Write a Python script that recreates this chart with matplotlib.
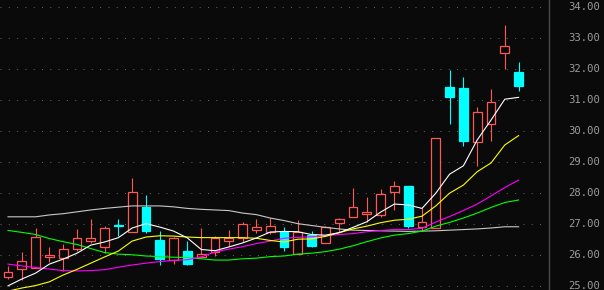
import matplotlib
matplotlib.use('Agg')
import matplotlib.pyplot as plt
from matplotlib.patches import Rectangle
from matplotlib.lines import Line2D
from matplotlib.transforms import blended_transform_factory
import numpy as np

# ---- data ----
opens  = [25.29, 25.55, 25.61, 25.96, 25.90, 26.19, 26.47, 26.26, 26.99, 26.76,
          27.56, 26.49, 25.85, 26.14, 25.94, 26.12, 26.47, 26.55, 26.81, 26.76,
          26.76, 26.06, 26.67, 26.39, 27.05, 27.24, 27.32, 27.30, 28.05, 28.23,
          26.92, 26.87, 31.40, 31.37, 29.65, 30.21, 32.50, 31.89]
highs  = [25.66, 26.11, 26.88, 26.26, 26.36, 26.84, 27.16, 26.94, 27.16, 28.48,
          27.94, 26.78, 26.60, 26.46, 26.87, 26.62, 26.81, 27.08, 27.16, 27.19,
          26.90, 27.14, 26.78, 26.94, 27.19, 28.15, 27.87, 28.12, 28.39, 28.23,
          27.51, 29.76, 31.96, 31.72, 30.76, 31.35, 33.41, 32.22]
lows   = [25.24, 25.21, 25.58, 25.79, 25.51, 26.15, 26.40, 26.08, 26.62, 26.74,
          26.73, 25.69, 25.72, 25.68, 25.94, 25.98, 26.30, 26.44, 26.71, 26.68,
          26.15, 26.03, 26.28, 26.39, 26.76, 27.22, 27.08, 27.24, 27.46, 26.89,
          26.79, 26.87, 30.22, 29.51, 28.88, 29.68, 31.99, 31.29]
closes = [25.46, 25.81, 26.60, 26.01, 26.19, 26.55, 26.55, 26.87, 26.95, 28.03,
          26.79, 25.87, 26.55, 25.71, 26.03, 26.55, 26.57, 27.00, 26.90, 26.94,
          26.28, 26.76, 26.31, 26.92, 27.16, 27.54, 27.40, 27.96, 28.24, 26.95,
          27.06, 29.76, 31.10, 29.68, 30.60, 30.92, 32.72, 31.45]

ma5  = [25.02, 25.24, 25.43, 25.72, 25.88, 26.07, 26.33, 26.43, 26.57, 26.88,
        27.02, 26.91, 26.78, 26.56, 26.19, 26.15, 26.27, 26.40, 26.56, 26.75,
        26.77, 26.76, 26.67, 26.65, 26.73, 26.90, 27.08, 27.39, 27.65, 27.62,
        27.51, 28.00, 28.61, 28.88, 29.71, 30.35, 31.02, 31.08]
ma10 = [24.85, 24.95, 25.03, 25.15, 25.37, 25.55, 25.75, 25.95, 26.14, 26.46,
        26.59, 26.63, 26.62, 26.59, 26.57, 26.57, 26.57, 26.57, 26.55, 26.48,
        26.43, 26.52, 26.53, 26.61, 26.73, 26.85, 26.94, 27.05, 27.13, 27.16,
        27.26, 27.59, 28.00, 28.26, 28.69, 28.97, 29.55, 29.85]
ma20 = [25.72, 25.66, 25.61, 25.56, 25.51, 25.50, 25.51, 25.54, 25.62, 25.69,
        25.75, 25.80, 25.84, 25.86, 25.95, 26.11, 26.20, 26.28, 26.38, 26.46,
        26.55, 26.58, 26.60, 26.63, 26.67, 26.70, 26.76, 26.80, 26.83, 26.83,
        26.87, 27.07, 27.25, 27.44, 27.65, 27.91, 28.18, 28.42]
ma30 = [26.80, 26.74, 26.67, 26.54, 26.44, 26.35, 26.22, 26.09, 26.04, 26.02,
        25.98, 25.96, 25.94, 25.93, 25.89, 25.85, 25.85, 25.89, 25.91, 25.96,
        25.98, 26.04, 26.07, 26.12, 26.20, 26.31, 26.44, 26.56, 26.65, 26.70,
        26.78, 26.94, 27.06, 27.20, 27.36, 27.54, 27.70, 27.78]
ma60 = [27.24, 27.24, 27.24, 27.30, 27.34, 27.40, 27.46, 27.51, 27.55, 27.59,
        27.59, 27.59, 27.56, 27.51, 27.48, 27.46, 27.44, 27.36, 27.31, 27.20,
        27.12, 27.02, 26.96, 26.90, 26.85, 26.81, 26.80, 26.79, 26.78, 26.77,
        26.78, 26.79, 26.81, 26.83, 26.85, 26.88, 26.92, 26.92]

ytick_values = [25, 26, 27, 28, 29, 30, 31, 32, 33, 34]

# ---- style ----
BG = '#0a0a0a'
UP = '#ff5656'
DOWN = '#00ffff'
GRID = '#626262'
LABEL = '#9c9c9c'

fig = plt.figure(figsize=(6.04, 2.90), dpi=100, facecolor=BG)
ax = fig.add_axes([0, 0, 548 / 604, 1])
ax.set_facecolor(BG)
for s in ax.spines.values():
    s.set_visible(False)
ax.set_xticks([])
ax.set_yticks([])

n = len(opens)
xs = np.arange(n)
ax.set_xlim(-0.58, 39.13)
ax.set_ylim(24.887, 34.209)

# dotted grid
for v in ytick_values:
    ax.axhline(v, color=GRID, lw=0.72, linestyle=(0, (1, 7.3)), zorder=1)

# candles
bw = 0.64
for i in range(n):
    o, h, l, c = opens[i], highs[i], lows[i], closes[i]
    up = c >= o
    col = UP if up else DOWN
    ax.vlines(xs[i], l, h, color=col, lw=0.8, zorder=2)
    bottom = min(o, c)
    height = max(abs(c - o), 0.03)
    ax.add_patch(Rectangle((xs[i] - bw / 2, bottom), bw, height,
                           facecolor=BG if up else DOWN, edgecolor=col,
                           lw=0.9, zorder=3))

# moving averages
ax.plot(xs, ma60, color='#c8c8c8', lw=0.8, zorder=4)
ax.plot(xs, ma30, color='#00ff00', lw=0.8, zorder=4)
ax.plot(xs, ma20, color='#ff00ff', lw=0.8, zorder=4)
ax.plot(xs, ma10, color='#ffff00', lw=0.8, zorder=4)
ax.plot(xs, ma5, color='#ffffff', lw=0.8, zorder=5)

# separator line
fig.add_artist(Line2D([548.5 / 604, 548.5 / 604], [0, 1], transform=fig.transFigure,
                      color='#4a4a4a', lw=1.0))

# price labels on the right
tr = blended_transform_factory(fig.transFigure, ax.transData)
for v in ytick_values:
    fig.text(600 / 604, v, f'{v:.2f}', transform=tr, ha='right', va='center',
             family='DejaVu Sans Mono', fontsize=7.6, color=LABEL)

fig.savefig('out.png', dpi=100, facecolor=BG)
